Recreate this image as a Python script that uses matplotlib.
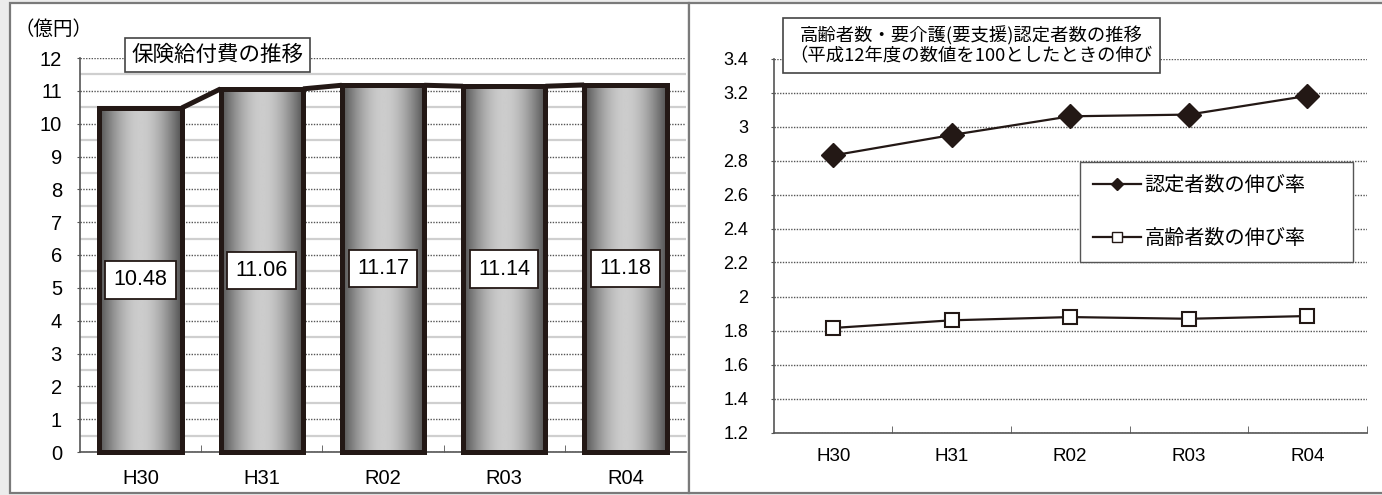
"""
Two panels: insurance benefit cost bars (left) and growth ratio lines (right).
"""
import numpy as np
import matplotlib
matplotlib.use('Agg')
import matplotlib.pyplot as plt
from matplotlib.patches import Rectangle
from matplotlib.lines import Line2D
from matplotlib.ticker import MultipleLocator, FixedLocator

plt.rcParams['font.family'] = ['Liberation Sans', 'Noto Sans CJK JP', 'DejaVu Sans']

# Data.
years = ['H30', 'H31', 'R02', 'R03', 'R04']
benefit_cost = [10.48, 11.06, 11.17, 11.14, 11.18]          # 億円
certified_growth = [2.83, 2.95, 3.06, 3.07, 3.18]           # 認定者数の伸び率
elderly_growth = [1.815, 1.86, 1.879, 1.869, 1.885]         # 高齢者数の伸び率

left_title = '保険給付費の推移'
right_title = '高齢者数・要介護(要支援)認定者数の推移\n（平成12年度の数値を100としたときの伸び'
unit_label = '（億円）'
legend_labels = ['認定者数の伸び率', '高齢者数の伸び率']

W, H = 1382, 495
INK = '#231815'
JP = ['Noto Sans CJK JP', 'DejaVu Sans']


def fx(x):
    return x / W


def fy(y):
    return 1 - y / H


fig = plt.figure(figsize=(W / 100, H / 100), dpi=100)
fig.patch.set_facecolor('#ececec')

# Panel frames.
for x0, x1 in [(10, 689), (689, 1400)]:
    fig.patches.append(Rectangle((fx(x0), fy(493)), fx(x1 - x0), (493 - 3) / H,
                                 transform=fig.transFigure, facecolor='white',
                                 edgecolor='#7a7a7a', linewidth=1.6, zorder=-5))

x = np.arange(len(years))

# ---------------- Left: bar chart ----------------
ax1 = fig.add_axes([fx(80), fy(452), 606 / W, 394 / H])
ax1.set_facecolor('none')
bw = 0.68
shade = np.linspace(0, 1, 200)
grad = (0.32 + 0.48 * np.sin(np.pi * shade))[None, :]
for xi, v in zip(x, benefit_cost):
    ax1.imshow(grad, extent=[xi - bw / 2, xi + bw / 2, 0, v], aspect='auto',
               cmap='gray', vmin=0, vmax=1, zorder=2, interpolation='bilinear')
ax1.bar(x, benefit_cost, width=bw, fill=False, edgecolor=INK, linewidth=3.6,
        zorder=3, clip_on=False)
for i in range(len(x) - 1):
    ax1.plot([x[i] + bw / 2, x[i + 1] - bw / 2], [benefit_cost[i], benefit_cost[i + 1]],
             color=INK, linewidth=3.6, zorder=3, solid_capstyle='butt')
for xi, v in zip(x, benefit_cost):
    ax1.text(xi, v / 2, f'{v:.2f}', ha='center', va='center', fontsize=15.5, zorder=4,
             bbox=dict(boxstyle='square,pad=0.38', facecolor='white', edgecolor=INK,
                       linewidth=1.3))

ax1.set_xlim(-0.5, len(years) - 0.5)
ax1.set_ylim(0, 12)
ax1.yaxis.set_major_locator(MultipleLocator(1))
ax1.yaxis.set_minor_locator(MultipleLocator(0.5))
ax1.grid(which='major', axis='y', color='#555555', linestyle=(0, (1, 1)), linewidth=1.0)
ax1.grid(which='minor', axis='y', color='#cfcfcf', linestyle='-', linewidth=1.6)
ax1.set_axisbelow(True)
ax1.set_xticks(x)
ax1.set_xticklabels(years)
ax1.xaxis.set_minor_locator(FixedLocator(np.arange(0.5, len(years) - 0.5, 1)))
ax1.tick_params(axis='x', which='major', length=0, pad=12.5, labelsize=14.5)
ax1.tick_params(axis='x', which='minor', direction='in', length=5, color='#555555')
ax1.tick_params(axis='y', which='major', length=2.5, pad=10.5, labelsize=14.5,
                color='#555555')
ax1.tick_params(axis='y', which='minor', length=0)
for s in ['top', 'right']:
    ax1.spines[s].set_visible(False)
for s in ['left', 'bottom']:
    ax1.spines[s].set_color('#555555')
    ax1.spines[s].set_linewidth(1.2)

fig.text(fx(53), fy(29), unit_label, ha='center', va='center', fontsize=14, family=JP)
fig.patches.append(Rectangle((fx(125), fy(72)), fx(185), 34 / H, transform=fig.transFigure,
                             facecolor='white', edgecolor='#444444', linewidth=1.2, zorder=5))
fig.text(fx(218), fy(55), left_title, ha='center', va='center', fontsize=15.5,
         family=JP, zorder=6)

# ---------------- Right: line chart ----------------
ax2 = fig.add_axes([fx(774), fy(432.5), 592.5 / W, 374 / H])
ax2.set_facecolor('none')
ax2.plot(x, certified_growth, color=INK, linewidth=1.6, marker='D', markersize=12.5,
         markerfacecolor=INK, markeredgecolor=INK, zorder=3, clip_on=False)
ax2.plot(x, elderly_growth, color=INK, linewidth=1.6, marker='s', markersize=10,
         markerfacecolor='white', markeredgecolor=INK, markeredgewidth=1.5, zorder=3)

yt = np.round(np.arange(1.2, 3.41, 0.2), 1)
ax2.set_xlim(-0.5, len(years) - 0.5)
ax2.set_ylim(1.2, 3.4)
ax2.set_yticks(yt)
ax2.set_yticklabels([f'{t:g}' for t in yt])
ax2.grid(which='major', axis='y', color='#555555', linestyle=(0, (1, 1)), linewidth=1.0)
ax2.set_axisbelow(True)
ax2.set_xticks(x)
ax2.set_xticklabels(years)
ax2.xaxis.set_minor_locator(FixedLocator(np.arange(0.5, len(years), 1)))
ax2.tick_params(axis='x', which='major', length=0, pad=11, labelsize=13.5)
ax2.tick_params(axis='x', which='minor', direction='in', length=5, color='#555555')
ax2.tick_params(axis='y', which='major', length=2.5, pad=16, labelsize=13,
                color='#555555')
for s in ['top', 'right']:
    ax2.spines[s].set_visible(False)
for s in ['left', 'bottom']:
    ax2.spines[s].set_color('#555555')
    ax2.spines[s].set_linewidth(1.2)

fig.patches.append(Rectangle((fx(783), fy(73)), fx(377), 55 / H, transform=fig.transFigure,
                             facecolor='white', edgecolor='#444444', linewidth=1.2, zorder=5))
fig.text(fx(971), fy(45.5), right_title, ha='center', va='center', fontsize=13.2,
         family=JP, linespacing=1.15, zorder=6)

handles = [
    Line2D([], [], color=INK, linewidth=1.6, marker='D', markersize=6,
           markerfacecolor=INK, markeredgecolor=INK),
    Line2D([], [], color=INK, linewidth=1.6, marker='s', markersize=7,
           markerfacecolor='white', markeredgecolor=INK),
]
leg = ax2.legend(handles, legend_labels, loc='upper left',
                 bbox_to_anchor=(fx(1080), fy(259), fx(273), 97 / H),
                 bbox_transform=fig.transFigure, mode='expand', fancybox=False,
                 framealpha=1, edgecolor='#555555', prop={'family': JP, 'size': 14.5},
                 handlelength=2.4, handletextpad=0.15, labelspacing=1.6, borderpad=0.65,
                 borderaxespad=0)
leg.get_frame().set_linewidth(1.0)
leg._legend_box.align = 'left'

fig.savefig('out.png', dpi=100, facecolor=fig.get_facecolor())
